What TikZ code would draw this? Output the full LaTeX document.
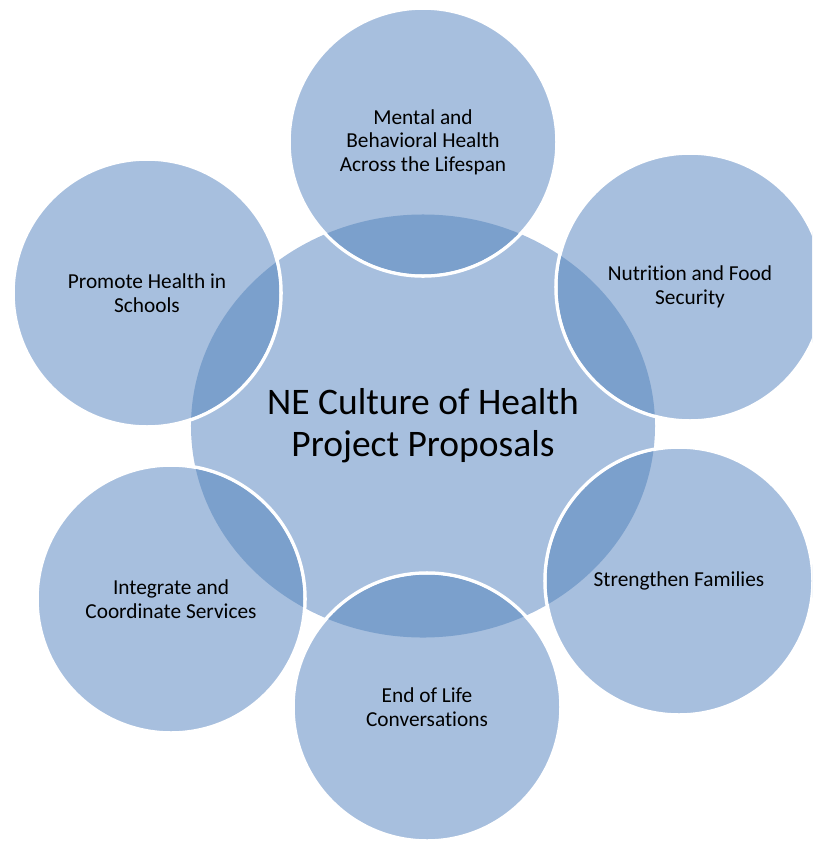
\documentclass[tikz,border=0pt]{standalone}
\usepackage{fontspec}
\setmainfont[Ligatures=CommonOff]{Carlito}
\usetikzlibrary{shapes.geometric}
\definecolor{petal}{HTML}{A7BFDE}
\definecolor{lens}{HTML}{7BA0CC}
\definecolor{ink}{HTML}{000000}

\begin{document}
\begin{tikzpicture}[x=0.03cm,y=-0.03cm,text=ink,
  hub/.style={ellipse,fill=petal,inner sep=0pt,align=center,
    minimum width=13.92cm,minimum height=12.69cm,
    font=\fontsize{32}{36}\selectfont},
  petalnode/.style={circle,fill=petal,draw=white,line width=3pt,
    inner sep=0pt,minimum size=8.04cm,align=center,
    font=\fontsize{18.2}{20}\selectfont}]
  \useasboundingbox (0,0) rectangle (812,841);
  \clip (0,0) rectangle (812,841);

  \node[hub] (hub) at (423,426) {NE Culture of Health\\Project Proposals};

  \node[petalnode] (mental) at (423,142)
    {Mental and\\Behavioral Health\\Across the Lifespan};
  \node[petalnode] (nutrition) at (690,287) {Nutrition and Food\\Security};
  \node[petalnode] (families) at (679,581) {Strengthen Families};
  \node[petalnode] (endlife) at (427,707) {End of Life\\Conversations};
  \node[petalnode] (services) at (171,599)
    {Integrate and\\Coordinate Services};
  \node[petalnode] (schools) at (147,293) {Promote Health in\\Schools};

  % darker lens where a petal lies over the hub
  \begin{scope}
    \clip (hub.center) ellipse [x radius=6.96cm,y radius=6.345cm];
    \foreach \p in {mental,nutrition,families,endlife,services,schools}
      \fill[lens] (\p.center) circle [radius=4.02cm-1.5pt];
  \end{scope}
\end{tikzpicture}
\end{document}
